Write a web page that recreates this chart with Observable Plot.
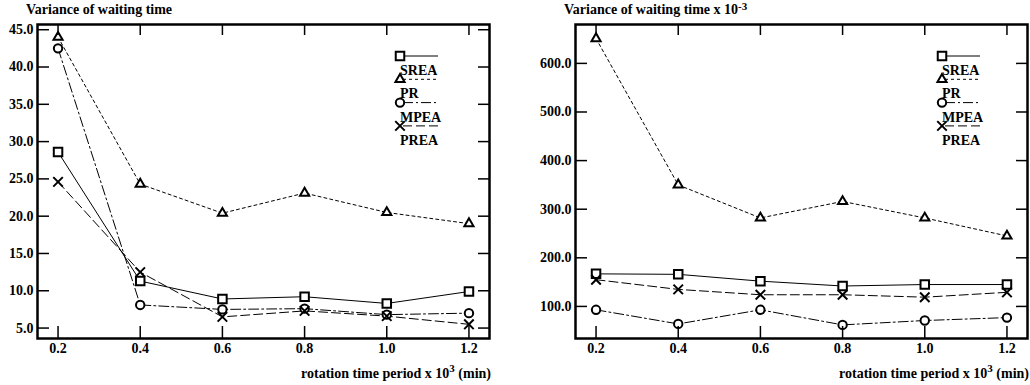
<!DOCTYPE html>
<html><head><meta charset="utf-8">
<script src="https://cdn.jsdelivr.net/npm/d3@7"></script>
<script src="https://cdn.jsdelivr.net/npm/@observablehq/plot@0.6"></script>
<style>
body{margin:0;background:#fff}
#wrap{position:relative;width:1030px;height:385px;overflow:hidden}
#wrap svg{position:absolute;top:0}
</style>
</head><body><div id="wrap"></div>
<script>
// ---- data ----
const periods = [0.2, 0.4, 0.6, 0.8, 1.0, 1.2];
const seriesNames = ["SREA", "PR", "MPEA", "PREA"];
const leftSREA = [28.6, 11.3, 8.9, 9.2, 8.3, 9.9];
const leftPR   = [44.0, 24.3, 20.4, 23.1, 20.5, 19.0];
const leftMPEA = [42.5, 8.1, 7.5, 7.6, 6.8, 7.0];
const leftPREA = [24.6, 12.5, 6.5, 7.3, 6.6, 5.5];
const rightSREA = [167, 166, 152, 142, 145, 145];
const rightPR   = [651, 350, 282, 316, 282, 245];
const rightMPEA = [93, 64, 93, 62, 71, 77];
const rightPREA = [155, 135, 124, 124, 119, 129];
const leftYTicks = [5, 10, 15, 20, 25, 30, 35, 40, 45];
const rightYTicks = [100, 200, 300, 400, 500, 600];
const leftTitle = "Variance of waiting time";
const rightTitle = ["Variance of waiting time x 10", "-3"];
const xLabel = ["rotation time period x 10", "3", " (min)"];

// ---- styles ----
const styles = {
  SREA: {symbol: "square", dash: null, r: 4.8},
  PR:   {symbol: "triangle", dash: "3,3", r: 3.4},
  MPEA: {symbol: "circle", dash: "10,3,2,3", r: 4.2},
  PREA: {symbol: "times", dash: "9,4", r: 4.4}
};

function toRows(arrs) {
  const rows = [];
  seriesNames.forEach((s, i) => periods.forEach((p, j) => rows.push({series: s, x: p, y: arrs[i][j]})));
  return rows;
}

function makeChart(rows, yDomain, yTicks, opts) {
  const marks = [];
  for (const s of seriesNames) {
    const d = rows.filter(r => r.series === s);
    marks.push(Plot.line(d, {x: "x", y: "y", stroke: "black", strokeWidth: 1, strokeDasharray: styles[s].dash}));
  }
  for (const s of seriesNames) {
    const d = rows.filter(r => r.series === s);
    marks.push(Plot.dot(d, {x: "x", y: "y", symbol: () => styles[s].symbol, r: styles[s].r, stroke: "black", fill: "white", strokeWidth: 2}));
  }
  marks.push(
    Plot.axisY({ticks: yTicks, tickSize: -12, tickFormat: () => "", label: null, strokeWidth: 1.5}),
    Plot.axisY({anchor: "right", ticks: yTicks, tickSize: -12, tickFormat: () => "", label: null, strokeWidth: 1.5}),
    Plot.axisY({ticks: yTicks, tickSize: 0, tickPadding: 4, tickFormat: d => d.toFixed(1), label: null}),
    Plot.axisX({anchor: "bottom", ticks: periods, tickSize: -12, tickFormat: () => "", label: null, strokeWidth: 1.5}),
    Plot.axisX({anchor: "top", ticks: periods, tickSize: -10, tickFormat: () => "", label: null, strokeWidth: 1.5}),
    Plot.axisX({anchor: "bottom", ticks: periods, tickSize: 0, tickPadding: 5, tickFormat: d => d.toFixed(1), label: null}),
    Plot.frame({stroke: "black", strokeWidth: 2.5})
  );
  return Plot.plot({
    width: opts.width, height: 385,
    marginLeft: opts.ml, marginRight: opts.mr, marginTop: 24, marginBottom: 47,
    x: {domain: [0.15, 1.25]},
    y: {domain: yDomain},
    symbol: {type: "identity"},
    style: {fontFamily: "'Liberation Serif', serif", fontSize: "14px", fontWeight: "bold", color: "black", background: "white", overflow: "visible"},
    marks
  });
}

function decorate(svgEl, opts) {
  const svg = d3.select(svgEl);
  const fl = opts.ml, fr = opts.width - opts.mr, ft = 24;
  const g = svg.append("g").attr("font-family", "'Liberation Serif', serif").attr("font-weight", "bold")
    .attr("fill", "black").attr("text-anchor", "start");
  // title
  const t = g.append("text").attr("x", fl - 11).attr("y", 14).attr("font-size", 14);
  if (Array.isArray(opts.title)) {
    t.append("tspan").text(opts.title[0]);
    t.append("tspan").attr("dy", -4).attr("font-size", 11).text(opts.title[1]);
  } else t.text(opts.title);
  // x label
  const xl = g.append("text").attr("x", fr + 2).attr("y", 378).attr("text-anchor", "end").attr("font-size", 14);
  xl.append("tspan").text(xLabel[0]);
  xl.append("tspan").attr("dy", -6).attr("font-size", 11).text(xLabel[1]);
  xl.append("tspan").attr("dy", 6).text(xLabel[2]);
  // legend
  const lx = fr - opts.legOff;
  seriesNames.forEach((s, i) => {
    const cy = ft + 32 + i * 23.3;
    const st = styles[s];
    g.append("line").attr("x1", lx + 3).attr("x2", lx + 38).attr("y1", cy).attr("y2", cy)
      .attr("stroke", "black").attr("stroke-width", 1).attr("stroke-dasharray", st.dash);
    const sym = {square: d3.symbolSquare, triangle: d3.symbolTriangle, circle: d3.symbolCircle, times: d3.symbolTimes}[st.symbol];
    g.append("path").attr("transform", `translate(${lx},${cy})`)
      .attr("d", d3.symbol(sym, Math.PI * st.r * st.r)())
      .attr("fill", "white").attr("stroke", "black").attr("stroke-width", 2);
    g.append("text").attr("x", lx).attr("y", cy + 19).attr("font-size", 14).text(s);
  });
}

const wrap = document.getElementById("wrap");
const lo = {width: 515, ml: 37, mr: 26, title: leftTitle, legOff: 89};
const left = makeChart(toRows([leftSREA, leftPR, leftMPEA, leftPREA]), [3.6, 45.7], leftYTicks, lo);
left.style.left = "0px";
decorate(left, lo);
wrap.appendChild(left);
const ro = {width: 515, ml: 60, mr: 3, title: rightTitle, legOff: 85};
const right = makeChart(toRows([rightSREA, rightPR, rightMPEA, rightPREA]), [34, 680], rightYTicks, ro);
right.style.left = "515px";
decorate(right, ro);
wrap.appendChild(right);
</script>
</body></html>
